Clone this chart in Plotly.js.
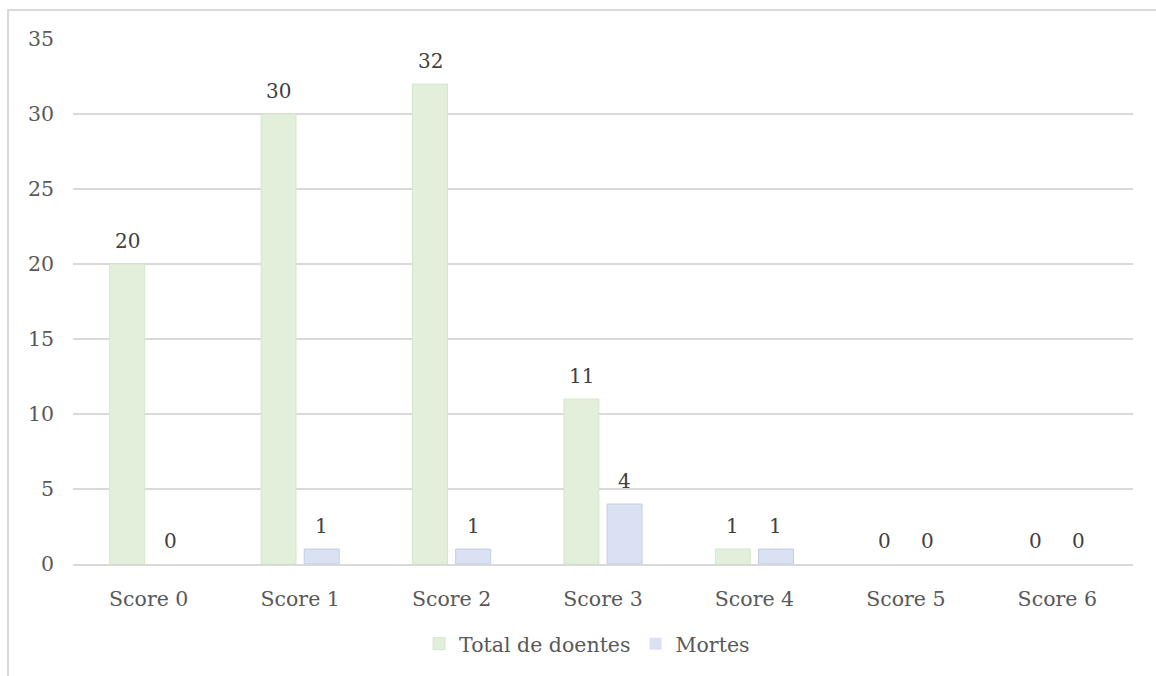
<!DOCTYPE html>
<html><head><meta charset="utf-8">
<script src="https://cdn.plot.ly/plotly-3.0.1.min.js"></script>
<style>
html,body{margin:0;padding:0;background:#fff;overflow:hidden}
#wrap{position:relative;width:1156px;height:676px}
#chart{width:1156px;height:676px}
#frame{position:absolute;left:7px;top:9px;width:1200px;height:720px;border:2px solid #d9d9d9;pointer-events:none}
</style></head>
<body><div id="wrap"><div id="chart"></div><div id="frame"></div></div>
<script>
const categories = ["Score 0","Score 1","Score 2","Score 3","Score 4","Score 5","Score 6"];
const totalDoentes = [20,30,32,11,1,0,0];
const mortes = [0,1,1,4,1,0,0];
const yTicks = [0,5,10,15,20,25,30,35];

const font = "Georgia, 'DejaVu Serif', serif";
const traces = [
  {type:"bar", name:"Total de doentes", x:categories, y:totalDoentes,
   marker:{color:"#E2EFDA", line:{color:"#d6e6cb", width:totalDoentes.map(v=>v>0?1:0)}},
   hoverinfo:"x+y"},
  {type:"bar", name:"Mortes", x:categories, y:mortes,
   marker:{color:"#D9E1F2", line:{color:"#c3cee5", width:mortes.map(v=>v>0?1:0)}},
   hoverinfo:"x+y"}
];
function labels(vals, dx){
  return vals.map((v,i)=>({x:categories[i], y:v, xref:"x", yref:"y", text:String(v), showarrow:false,
    xshift:dx, yshift:23, yanchor:"middle", xanchor:"center",
    font:{family:font, size:20, color:"#404040"}}));
}
const layout = {
  width:1156, height:676,
  margin:{l:73, r:23, t:39, b:109},
  paper_bgcolor:"#fff", plot_bgcolor:"#fff",
  font:{family:font, size:20, color:"#595959"},
  barmode:"group", bargap:0.43, bargroupgap:0.19,
  showlegend:true,
  legend:{orientation:"h", x:0.485, xanchor:"center", y:-0.152, yanchor:"middle",
          font:{family:font, size:20.5, color:"#595959"}, itemwidth:30, tracegroupgap:0},
  xaxis:{type:"category", showgrid:false, zeroline:false, showline:true, linecolor:"#d9d9d9", linewidth:2,
         ticks:"", ticklabelstandoff:15, tickfont:{family:font, size:20.5, color:"#595959"}},
  yaxis:{range:[0,35], tickvals:yTicks, ticktext:yTicks.map(String), showgrid:true, gridcolor:"#d9d9d9", gridwidth:2,
         zeroline:false, showline:false, ticks:"", ticklabelstandoff:18,
         tickfont:{family:font, size:20.5, color:"#595959"}},
  annotations: labels(totalDoentes, -21.5).concat(labels(mortes, 21.5))
};
Plotly.newPlot("chart", traces, layout, {displayModeBar:false, staticPlot:true});
</script></body></html>
